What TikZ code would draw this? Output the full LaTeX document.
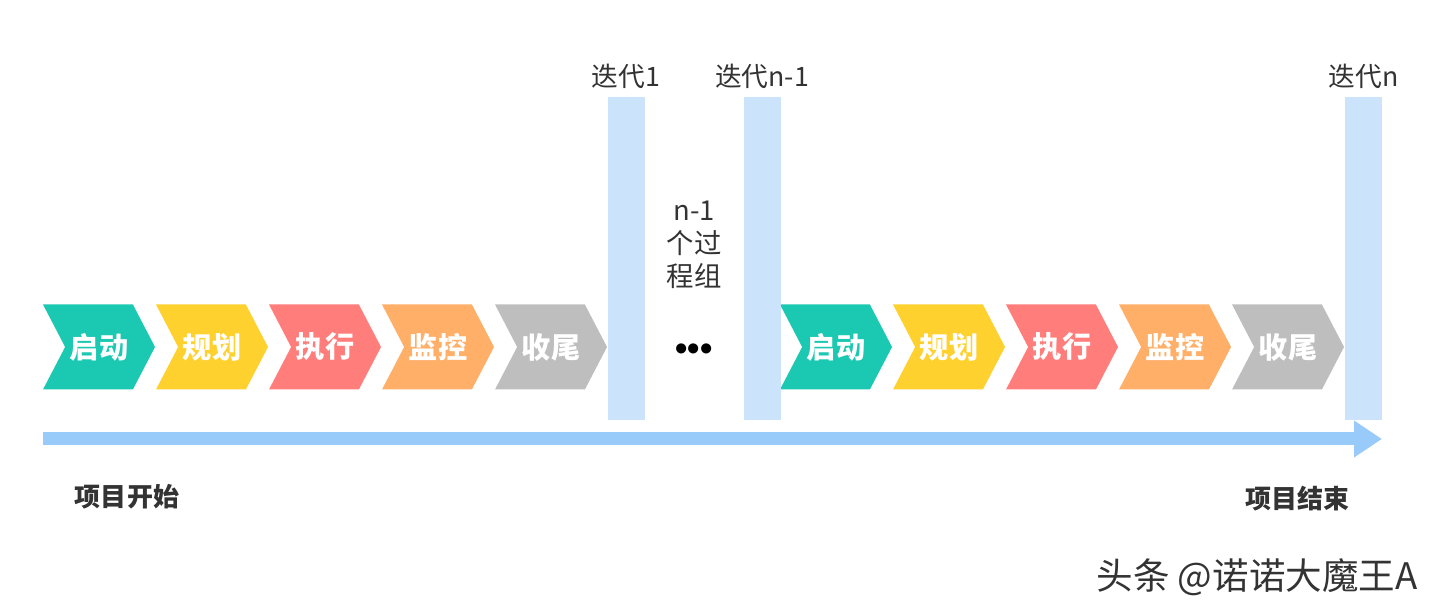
\documentclass[tikz,border=0pt]{standalone}
\usepackage{fontspec}
\setmainfont{Noto Sans CJK SC}
\newfontfamily\dotfont{Liberation Sans}
\usepackage{xcolor}
\definecolor{qidong}{HTML}{1BC8B1}
\definecolor{guihua}{HTML}{FFD12F}
\definecolor{zhixing}{HTML}{FF7D7A}
\definecolor{jiankong}{HTML}{FFAF68}
\definecolor{shouwei}{HTML}{BEBEBE}
\definecolor{iterblue}{HTML}{CCE4FB}
\definecolor{axisblue}{HTML}{98CAFA}
\definecolor{textgray}{HTML}{333333}
\usepackage{tikz}
\usetikzlibrary{shapes.symbols, arrows.meta, positioning}

\begin{document}
\begin{tikzpicture}[x=0.1mm, y=-0.1mm, node distance=0.6mm,
        stage/.style={signal, signal from=west, signal to=east, signal pointer angle=125, fill=#1, draw=none, minimum width=1.12cm, minimum height=0.85cm, inner sep=0pt, text=white, font=\bfseries\fontsize{8.3}{10}\selectfont},
        iter/.style={rectangle, fill=iterblue, minimum width=0.37cm, minimum height=3.23cm, inner sep=0pt},
        itlabel/.style={text=textgray, font=\fontsize{7.6}{9}\selectfont, inner sep=1pt},
        milestone/.style={text=textgray, font=\bfseries\fontsize{7.4}{9}\selectfont},
        line/.style={draw=axisblue, line width=1.3mm, -{Triangle[length=2.8mm, width=3.5mm]}}]

        \useasboundingbox (0,0) rectangle (1440,615);

        % first round of process groups
        \node [stage=qidong] (s1) at (99,347) {启动};
        \node [stage=guihua] (s2) at (212,347) {规划};
        \node [stage=zhixing] (s3) at (325,347) {执行};
        \node [stage=jiankong] (s4) at (438,347) {监控};
        \node [stage=shouwei] (s5) at (551,347) {收尾};

        % last round of process groups
        \node [stage=qidong] (t1) at (836,347) {启动};
        \node [stage=guihua] (t2) at (949,347) {规划};
        \node [stage=zhixing] (t3) at (1062,347) {执行};
        \node [stage=jiankong] (t4) at (1175,347) {监控};
        \node [stage=shouwei] (t5) at (1288,347) {收尾};

        % iteration bars
        \node [iter] (it1) at (626,258.5) {};
        \node [iter] (itm) at (762,258.5) {};
        \node [iter] (itn) at (1363.5,258.5) {};
        \node [itlabel, above=0.3mm of it1] (l1) {迭代1};
        \node [itlabel, above=0.3mm of itm] (lm) {迭代n-1};
        \node [itlabel, above=0.3mm of itn] (ln) {迭代n};

        \node [text=textgray, align=center, font=\fontsize{7.8}{9.4}\selectfont] (mid) at (694,245) {n-1\\个过\\程组};
        \node [text=black, font=\dotfont\bfseries\fontsize{10}{12}\selectfont] (dots) at (694,352) {•••};

        % time axis
        \coordinate (start) at (43,439);
        \coordinate (stop) at (1382,439);
        \path [line] (start) -- (stop);

        \node [milestone] (begin) at (127,497) {项目开始};
        \node [milestone] (end) at (1297,499) {项目结束};

        \node [text=textgray, font=\fontsize{10.4}{12}\selectfont] (mark) at (1257,577) {头条 @诺诺大魔王A};
    \end{tikzpicture}
\end{document}
